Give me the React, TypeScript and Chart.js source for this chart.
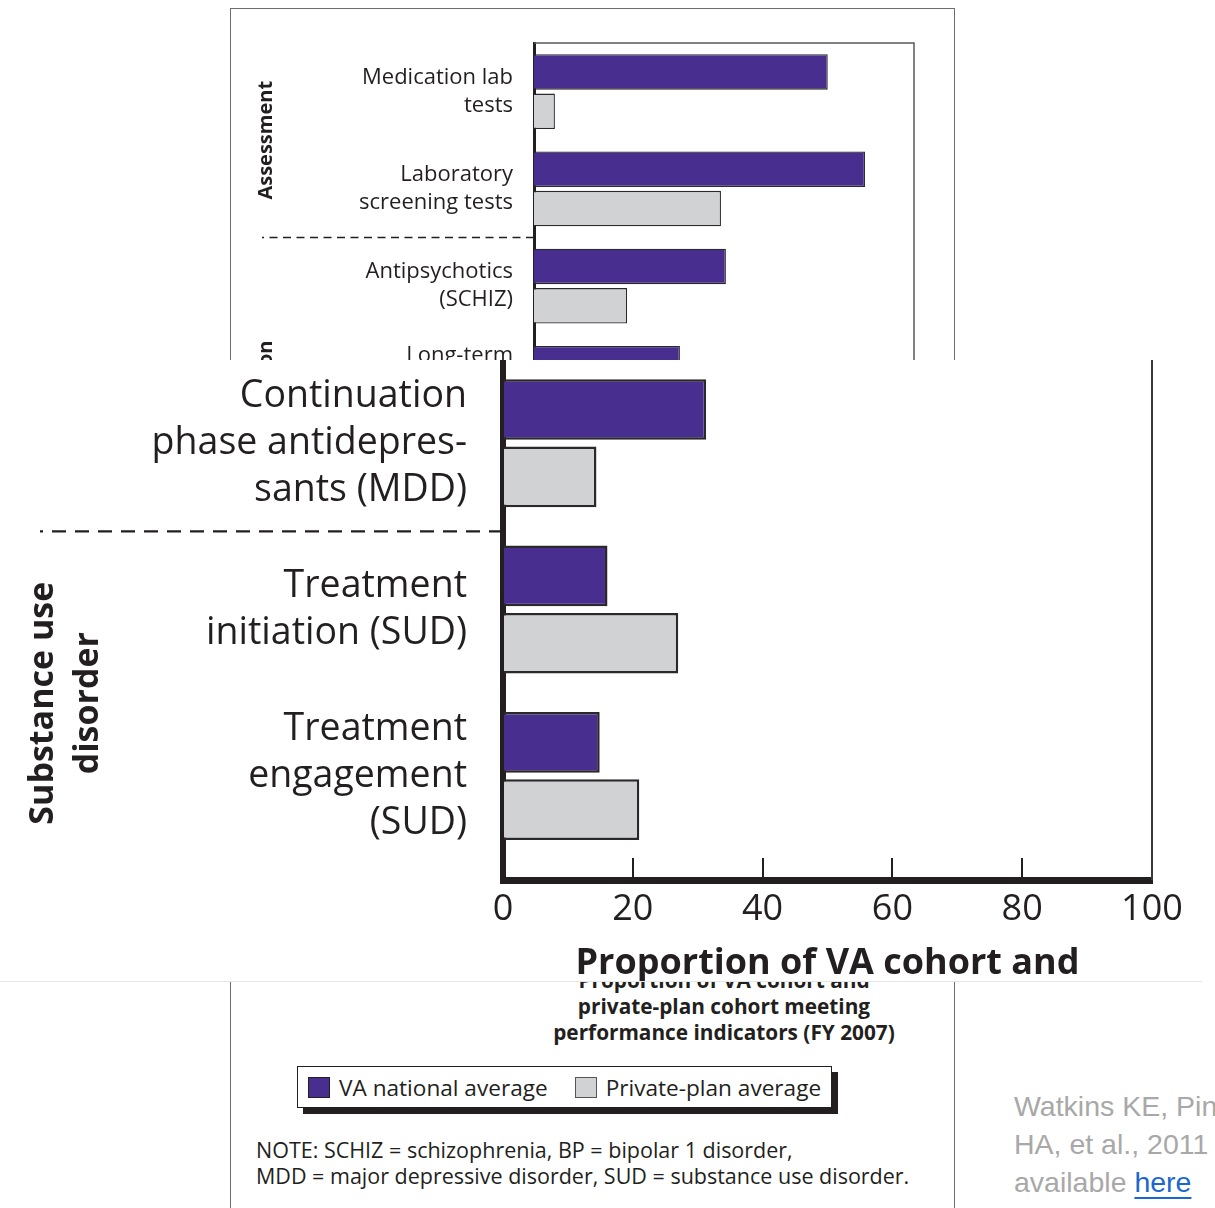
import React, { useEffect, useRef } from "react";
import { Chart, registerables } from "chart.js";

Chart.register(...registerables);

// ---------------- data ----------------
const seriesNames = ["VA national average", "Private-plan average"];

// full figure (background), visible upper part
const overviewCategories = [
  ["Medication lab", "tests"],
  ["Laboratory", "screening tests"],
  ["Antipsychotics", "(SCHIZ)"],
  ["Long-term", "mood stabilizers", "(BP)"],
];
const overviewVA = [77.3, 87.1, 50.5, 38.4];
const overviewPrivate = [5.5, 49.2, 24.5, null];
const overviewGroups = ["Assessment", "Medication"];

// magnified view (foreground)
const detailCategories = [
  ["Continuation", "phase antidepres-", "sants (MDD)"],
  ["Treatment", "initiation (SUD)"],
  ["Treatment", "engagement", "(SUD)"],
];
const detailVA = [31.3, 16.1, 14.9];
const detailPrivate = [14.4, 27.0, 21.0];
const detailGroups = [["Substance use", "disorder"]];

const xTickValues = [0, 20, 40, 60, 80, 100];
const xAxisTitle = [
  "Proportion of VA cohort and",
  "private-plan cohort meeting",
  "performance indicators (FY 2007)",
];
const noteLines = [
  "NOTE: SCHIZ = schizophrenia, BP = bipolar 1 disorder,",
  "MDD = major depressive disorder, SUD = substance use disorder.",
];
const citationText = "Watkins KE, Pincus HA, et al., 2011 available ";
const citationLink = "here";

// ---------------- styles ----------------
const INK = "#231f20";
const PURPLE = "#482e8f";
const GREY = "#d1d2d4";
const FONT = '"Open Sans", "Noto Sans", sans-serif';

Chart.defaults.font.family = FONT;
Chart.defaults.color = INK;

function makeDecor(d: any) {
  return {
    id: "panelDecor",
    afterDraw(chart: any) {
      const { ctx, chartArea: a } = chart;
      const ys = chart.scales.y;
      const n = (chart.data.labels || []).length;
      const edge = (v: number) => ys.getPixelForValue(v);
      ctx.save();
      // plot box (top / right)
      ctx.strokeStyle = d.boxColor;
      ctx.lineWidth = d.boxWidth;
      ctx.beginPath();
      if (d.drawTop) {
        ctx.moveTo(a.left, a.top);
        ctx.lineTo(a.right, a.top);
      } else {
        ctx.moveTo(a.right, a.top);
      }
      ctx.lineTo(a.right, a.bottom);
      ctx.stroke();
      // dashed group separators (pattern starts at the axis)
      ctx.strokeStyle = INK;
      ctx.lineWidth = d.sepWidth;
      ctx.setLineDash(d.sepDash);
      for (const idx of d.separators) {
        const sy = edge(idx + 0.5) + d.sepOffset;
        ctx.beginPath();
        ctx.moveTo(a.left, sy);
        ctx.lineTo(a.left - d.sepReach, sy);
        ctx.stroke();
      }
      ctx.setLineDash([]);
      // rotated group labels
      ctx.fillStyle = INK;
      ctx.font = d.groupFont;
      ctx.textBaseline = "middle";
      for (const g of d.groups) {
        const top = g.first === 0 ? a.top : edge(g.first - 0.5);
        let yc: number;
        if (g.endGap !== undefined) {
          yc = top + g.endGap;
          ctx.textAlign = "right";
        } else {
          const bottom = g.last >= n - 1 ? a.bottom : edge(g.last + 0.5);
          yc = (top + bottom) / 2;
          ctx.textAlign = "center";
        }
        ctx.save();
        ctx.translate(a.left - d.groupDx, yc);
        ctx.rotate(-Math.PI / 2);
        g.lines.forEach((ln: string, i: number) => ctx.fillText(ln, 0, i * d.groupLine));
        ctx.restore();
      }
      ctx.restore();
    },
  };
}

function barDatasets(va: any[], pr: any[], bw: number) {
  const common = { borderColor: "#2b282c", borderWidth: bw, categoryPercentage: 0.81, barPercentage: 0.9 };
  return [
    { label: seriesNames[0], data: va, backgroundColor: PURPLE, ...common },
    { label: seriesNames[1], data: pr, backgroundColor: GREY, ...common },
  ];
}

function overviewConfig(): any {
  return {
    type: "bar",
    data: { labels: overviewCategories, datasets: barDatasets(overviewVA, overviewPrivate, 1.3) },
    options: {
      indexAxis: "y",
      animation: false,
      responsive: false,
      layout: { padding: { left: 0, top: 35, right: 39, bottom: 16 } },
      plugins: { legend: { display: false }, tooltip: { enabled: false } },
      scales: {
        x: { type: "linear", min: 0, max: 100, display: false },
        y: {
          type: "category",
          grid: { display: false, drawTicks: false },
          border: { display: true, width: 3, color: INK },
          ticks: { color: INK, padding: 21, autoSkip: false, font: { size: 22, lineHeight: 1.27 } },
          afterFit: (s: any) => {
            s.width = 304;
            s.paddingTop = 0;
            s.paddingBottom = 0;
          },
        },
      },
    },
    plugins: [
      makeDecor({
        boxColor: "#5a5a5a",
        boxWidth: 1.5,
        drawTop: true,
        separators: [1],
        sepOffset: 0,
        sepReach: 272,
        sepDash: [8, 5.5],
        sepWidth: 1.3,
        groups: [
          { lines: [overviewGroups[0]], first: 0, last: 1 },
          { lines: [overviewGroups[1]], first: 2, endGap: 103 },
        ],
        groupDx: 268,
        groupFont: `bold 20px ${FONT}`,
        groupLine: 26,
      }),
    ],
  };
}

function detailConfig(): any {
  return {
    type: "bar",
    data: { labels: detailCategories, datasets: barDatasets(detailVA, detailPrivate, 2.5) },
    options: {
      indexAxis: "y",
      animation: false,
      responsive: false,
      layout: { padding: { left: 0, top: 0, right: 50, bottom: 0 } },
      plugins: { legend: { display: false }, tooltip: { enabled: false } },
      scales: {
        x: {
          type: "linear",
          min: 0,
          max: 100,
          afterBuildTicks: (s: any) => {
            s.ticks = xTickValues.map((v) => ({ value: v }));
          },
          grid: { display: true, drawOnChartArea: false, drawTicks: true, tickLength: -22, lineWidth: 2, color: INK },
          border: { display: true, width: 7, color: INK },
          ticks: { color: INK, padding: 30, autoSkip: false, maxRotation: 0, font: { size: 36 } },
          title: {
            display: true,
            text: xAxisTitle,
            color: INK,
            font: { size: 36, weight: "bold", lineHeight: 1.22 },
            padding: { top: 0, bottom: 0 },
          },
          afterFit: (s: any) => {
            s.height = 194;
            s.paddingLeft = 0;
            s.paddingRight = 0;
          },
        },
        y: {
          type: "category",
          grid: { display: false, drawTicks: false },
          border: { display: true, width: 6, color: INK },
          ticks: { color: INK, padding: 36, autoSkip: false, font: { size: 37.5, lineHeight: 1.25 } },
          afterBuildTicks: (s: any) => {
            s._valueRange = s._valueRange + 0.125;
          },
          afterFit: (s: any) => {
            s.width = 503;
            s.paddingTop = 0;
            s.paddingBottom = 0;
          },
        },
      },
    },
    plugins: [
      makeDecor({
        boxColor: "#3a3a3a",
        boxWidth: 2,
        drawTop: false,
        separators: [0],
        sepOffset: 5,
        sepReach: 463,
        sepDash: [14, 9],
        sepWidth: 2.3,
        groups: [{ lines: detailGroups[0], first: 1, last: 2 }],
        groupDx: 460,
        groupFont: `bold 34px ${FONT}`,
        groupLine: 45,
      }),
    ],
  };
}

export default function App() {
  const overviewRef = useRef<HTMLCanvasElement>(null);
  const detailRef = useRef<HTMLCanvasElement>(null);

  useEffect(() => {
    const c1 = new Chart(overviewRef.current as HTMLCanvasElement, overviewConfig());
    const c2 = new Chart(detailRef.current as HTMLCanvasElement, detailConfig());
    return () => {
      c1.destroy();
      c2.destroy();
    };
  }, []);

  return (
    <div
      style={{
        position: "fixed",
        left: 0,
        top: 0,
        width: 1215,
        height: 1208,
        overflow: "hidden",
        background: "#fff",
        fontFamily: FONT,
        color: INK,
      }}
    >
      {/* outer figure frame */}
      <div
        style={{
          position: "absolute",
          left: 229.5,
          top: 7.5,
          width: 725,
          height: 1300,
          boxSizing: "border-box",
          border: "1.5px solid #6d6d6d",
        }}
      />
      <canvas
        ref={overviewRef}
        width={723}
        height={440}
        style={{ position: "absolute", left: 230, top: 8, width: 723, height: 440 }}
      />
      {/* axis title of the full figure */}
      <div
        style={{
          position: "absolute",
          left: 524,
          top: 967,
          width: 400,
          textAlign: "center",
          fontWeight: 700,
          fontSize: 20.8,
          lineHeight: "26px",
          whiteSpace: "nowrap",
        }}
      >
        {xAxisTitle.map((l) => (
          <div key={l}>{l}</div>
        ))}
      </div>
      {/* legend */}
      <div
        style={{
          position: "absolute",
          left: 297,
          top: 1066,
          width: 535,
          height: 42,
          boxSizing: "border-box",
          border: `1.5px solid ${INK}`,
          boxShadow: `6px 6px 0 ${INK}`,
          background: "#fff",
          display: "flex",
          alignItems: "center",
          fontSize: 22.6,
          whiteSpace: "nowrap",
        }}
      >
        {seriesNames.map((name, i) => (
          <div key={name} style={{ display: "flex", alignItems: "center", marginLeft: i === 0 ? 10 : 27 }}>
            <span
              style={{
                display: "inline-block",
                width: 22,
                height: 21,
                boxSizing: "border-box",
                border: `1.5px solid ${i === 0 ? INK : "#555"}`,
                background: i === 0 ? PURPLE : GREY,
                marginRight: 9,
              }}
            />
            <span>{name}</span>
          </div>
        ))}
      </div>
      {/* note */}
      <div style={{ position: "absolute", left: 256, top: 1137, fontSize: 21.5, lineHeight: "26px", whiteSpace: "nowrap" }}>
        {noteLines.map((l) => (
          <div key={l}>{l}</div>
        ))}
      </div>
      {/* citation */}
      <div
        style={{
          position: "absolute",
          left: 1014,
          top: 1087,
          width: 290,
          fontFamily: '"Liberation Sans", Arial, sans-serif',
          fontSize: 28.5,
          lineHeight: "38px",
          color: "#a8a8a8",
        }}
      >
        {citationText}
        <a
          href="#"
          style={{ color: "#1967d2", textDecoration: "underline", textUnderlineOffset: "5px", textDecorationThickness: "2px" }}
        >
          {citationLink}
        </a>
      </div>
      {/* magnified overlay */}
      <div
        style={{
          position: "absolute",
          left: 0,
          top: 360,
          width: 1202,
          height: 621,
          background: "#fff",
          overflow: "hidden",
          borderBottom: "1px solid #e6e6e6",
        }}
      >
        <canvas
          ref={detailRef}
          width={1202}
          height={714}
          style={{ position: "absolute", left: 0, top: 0, width: 1202, height: 714 }}
        />
      </div>
    </div>
  );
}
